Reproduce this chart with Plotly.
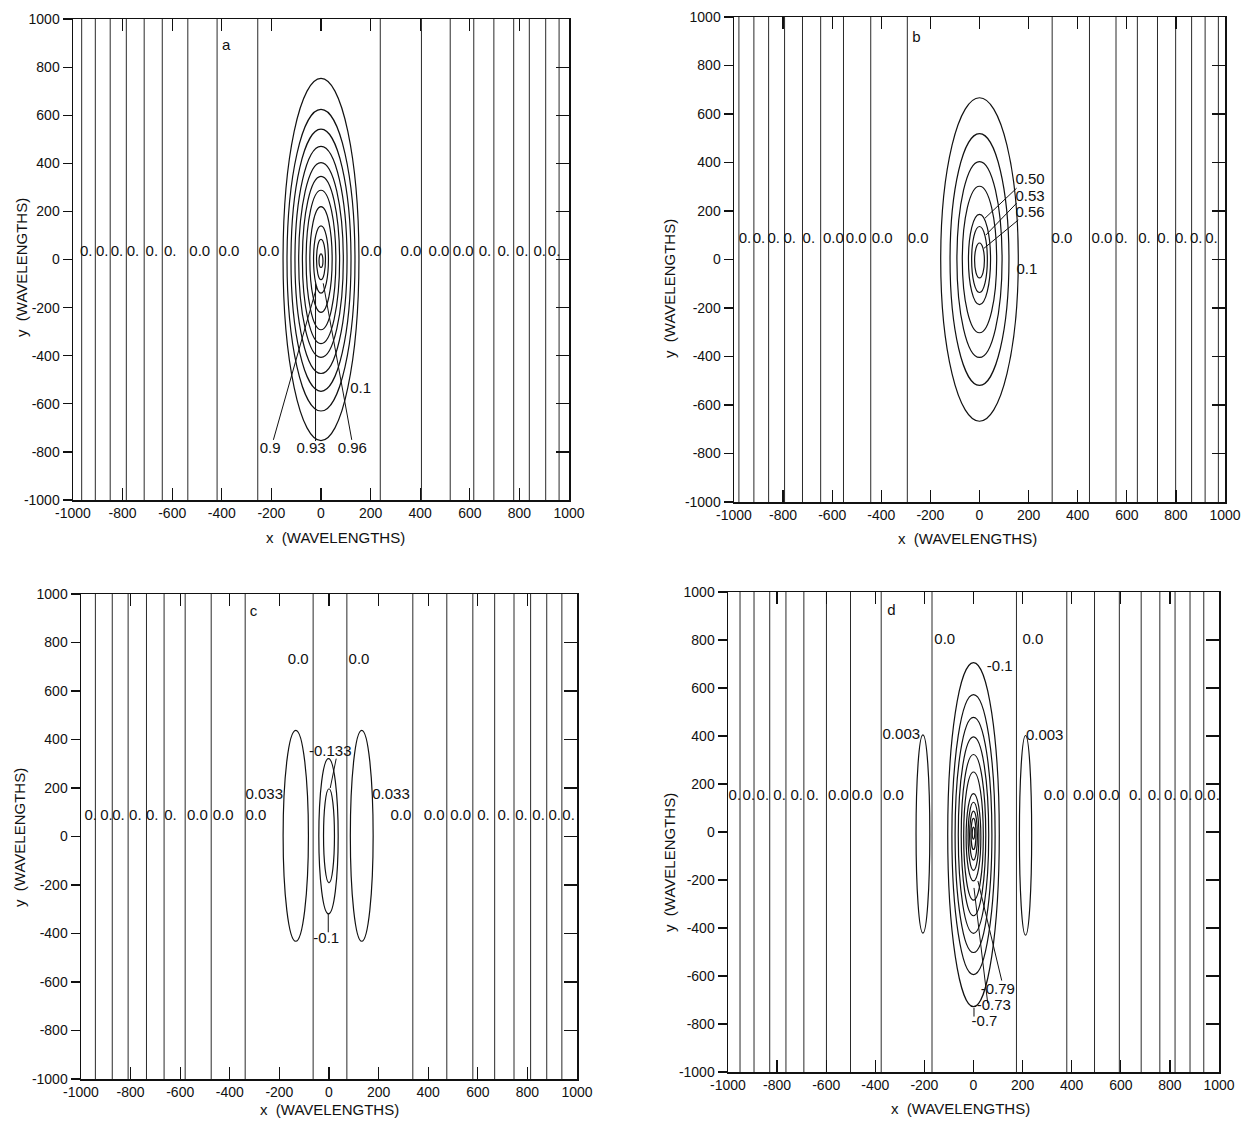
import plotly.graph_objects as go

# ---------------- data (x, y in wavelengths) ----------------
TICKS = [-1000, -800, -600, -400, -200, 0, 200, 400, 600, 800, 1000]
TICK_TEXT = ["-1000", "-800", "-600", "-400", "-200", "0", "200", "400", "600", "800", "1000"]
INNER_TICKS = [-800, -600, -400, -200, 0, 200, 400, 600, 800]

# Panel a
A_VLINES = [-965, -910, -850, -785, -713, -640, -537, -419, -255, 239, 405, 521, 616, 697, 777, 840, 906, 960]
A_ZERO_X = [-947, -882, -823, -758, -682, -608, -489, -371, -210, 202, 363, 476, 573, 661, 737, 811, 882, 940]
A_ZERO_TEXT = ["0.", "0.", "0.", "0.", "0.", "0.", "0.0", "0.0", "0.0", "0.0", "0.0", "0.0", "0.0", "0.", "0.", "0.", "0.", "0."]
A_ZERO_Y = 30
A_ELL_CX = [0, 0, 0, 0, 0, 0, 0, 0, 0, 0, 0]
A_ELL_CY = [0, -3, -3, -2, -2, -2, -2, 0, 0, 0, -5]
A_ELL_HW = [153, 137, 121, 105, 90, 75, 60, 45, 30, 18, 8]
A_ELL_HH = [753, 627, 545, 472, 405, 348, 290, 220, 140, 84, 28]
A_LBL_TEXT = ["0.1", "0.9", "0.93", "0.96", "a"]
A_LBL_X = [160, -205, -40, 126, -382]
A_LBL_Y = [-538, -790, -790, -790, 887]
A_LEAD_X0 = [-192, -22, 124]
A_LEAD_Y0 = [-750, -755, -750]
A_LEAD_X1 = [-17, -22, 9]
A_LEAD_Y1 = [-113, -99, -99]

# Panel b
B_VLINES = [-980, -919, -859, -794, -721, -647, -554, -443, -294, 296, 448, 556, 643, 725, 799, 864, 919, 973]
B_ZERO_X = [-955, -898, -838, -773, -695, -595, -502, -396, -250, 336, 499, 578, 672, 750, 822, 883, 945]
B_ZERO_TEXT = ["0.", "0.", "0.", "0.", "0.", "0.0", "0.0", "0.0", "0.0", "0.0", "0.0", "0.", "0.", "0.", "0.", "0.", "0."]
B_ZERO_Y = 83
B_ELL_CX = [0, 0, 0, 0, 0, 0, 0]
B_ELL_CY = [0, 0, 0, 0, 0, 0, -4]
B_ELL_HW = [158, 120, 92, 70, 45, 32, 20]
B_ELL_HH = [667, 519, 404, 302, 186, 136, 72]
B_LBL_TEXT = ["0.50", "0.53", "0.56", "0.1", "b"]
B_LBL_X = [206, 206, 206, 193, -257]
B_LBL_Y = [327, 257, 189, -44, 912]
B_LEAD_X0 = [151, 151, 158]
B_LEAD_Y0 = [294, 232, 163]
B_LEAD_X1 = [22, 26, 18]
B_LEAD_Y1 = [170, 101, 46]

# Panel c
C_VLINES = [-942, -874, -810, -736, -665, -580, -475, -338, -64, 72, 338, 475, 580, 668, 746, 813, 878, 939]
C_ZERO_X = [-961, -897, -849, -781, -713, -639, -531, -427, -295, 290, 424, 531, 623, 705, 776, 845, 910, 966]
C_ZERO_TEXT = ["0.", "0.", "0.", "0.", "0.", "0.", "0.0", "0.0", "0.0", "0.0", "0.0", "0.0", "0.", "0.", "0.", "0.", "0.", "0."]
C_ZERO_Y = 83
C_ELL_CX = [-134, 132, -2, 0]
C_ELL_CY = [3, 3, 1, 3]
C_ELL_HW = [51, 46, 39, 22]
C_ELL_HH = [435, 435, 320, 194]
C_LBL_TEXT = ["0.0", "0.0", "0.033", "0.033", "-0.133", "-0.1", "c"]
C_LBL_X = [-124, 121, -261, 250, 5, -11, -304]
C_LBL_Y = [727, 727, 171, 171, 346, -423, 923]
C_LEAD_X0 = [29, -3]
C_LEAD_Y0 = [321, -318]
C_LEAD_X1 = [5, -3]
C_LEAD_Y1 = [200, -395]

# Panel d
D_VLINES = [-951, -894, -830, -764, -691, -599, -501, -376, -169, 175, 380, 493, 594, 683, 759, 821, 882, 938]
D_ZERO_X = [-972, -915, -858, -790, -720, -655, -550, -453, -326, 329, 448, 553, 659, 735, 801, 866, 926, 978]
D_ZERO_TEXT = ["0.", "0.", "0.", "0.", "0.", "0.", "0.0", "0.0", "0.0", "0.0", "0.0", "0.0", "0.", "0.", "0.", "0.", "0.", "0."]
D_ZERO_Y = 151
D_ELL_CX = [0, 0, 0, 0, 0, 0, 0, 0, 0, 0, 0, -206, 212]
D_ELL_CY = [-11, -11, -12, -13, -13, -17, -22, -18, -15, -8, -5, -8, -14]
D_ELL_HW = [105, 88, 75, 62, 50, 40, 30, 22, 16, 10, 5, 28, 25]
D_ELL_HH = [717, 583, 490, 409, 336, 267, 182, 142, 102, 65, 25, 413, 416]
D_LBL_TEXT = ["0.0", "0.0", "0.003", "0.003", "-0.1", "-0.79", "-0.73", "-0.7", "d"]
D_LBL_X = [-117, 242, -294, 290, 107, 99, 83, 45, -334]
D_LBL_Y = [801, 801, 405, 401, 685, -658, -728, -794, 918]
D_LEAD_X0 = [115, 58, 2]
D_LEAD_Y0 = [-619, -714, -769]
D_LEAD_X1 = [18, 2, 2]
D_LEAD_Y1 = [-204, -233, -733]

PANELS = [
    dict(vl=A_VLINES, zx=A_ZERO_X, zt=A_ZERO_TEXT, zy=A_ZERO_Y, ecx=A_ELL_CX, ecy=A_ELL_CY, ehw=A_ELL_HW, ehh=A_ELL_HH,
         lt=A_LBL_TEXT, lx=A_LBL_X, ly=A_LBL_Y, x0=A_LEAD_X0, y0=A_LEAD_Y0, x1=A_LEAD_X1, y1=A_LEAD_Y1,
         box=(73, 569, 19, 500), xt=(336, 537), yt=(21, 268)),
    dict(vl=B_VLINES, zx=B_ZERO_X, zt=B_ZERO_TEXT, zy=B_ZERO_Y, ecx=B_ELL_CX, ecy=B_ELL_CY, ehw=B_ELL_HW, ehh=B_ELL_HH,
         lt=B_LBL_TEXT, lx=B_LBL_X, ly=B_LBL_Y, x0=B_LEAD_X0, y0=B_LEAD_Y0, x1=B_LEAD_X1, y1=B_LEAD_Y1,
         box=(734, 1225, 17, 502), xt=(967, 538), yt=(669, 288)),
    dict(vl=C_VLINES, zx=C_ZERO_X, zt=C_ZERO_TEXT, zy=C_ZERO_Y, ecx=C_ELL_CX, ecy=C_ELL_CY, ehw=C_ELL_HW, ehh=C_ELL_HH,
         lt=C_LBL_TEXT, lx=C_LBL_X, ly=C_LBL_Y, x0=C_LEAD_X0, y0=C_LEAD_Y0, x1=C_LEAD_X1, y1=C_LEAD_Y1,
         box=(81, 577, 594, 1079), xt=(329, 1109), yt=(19, 838)),
    dict(vl=D_VLINES, zx=D_ZERO_X, zt=D_ZERO_TEXT, zy=D_ZERO_Y, ecx=D_ELL_CX, ecy=D_ELL_CY, ehw=D_ELL_HW, ehh=D_ELL_HH,
         lt=D_LBL_TEXT, lx=D_LBL_X, ly=D_LBL_Y, x0=D_LEAD_X0, y0=D_LEAD_Y0, x1=D_LEAD_X1, y1=D_LEAD_Y1,
         box=(728, 1219, 592, 1072), xt=(960, 1108), yt=(669, 862)),
]

W, H = 1243, 1122
FONT = "Liberation Sans, Arial, sans-serif"
INK = "#111111"
LBL_SIZE = 15
TICK_SIZE = 14

fig = go.Figure()
layout = dict(template="none", width=W, height=H, margin=dict(l=0, r=0, t=0, b=0, pad=0, autoexpand=False),
              paper_bgcolor="white", plot_bgcolor="white", showlegend=False, hovermode=False,
              font=dict(family=FONT, size=13, color=INK))
shapes = []
annotations = []

for i, p in enumerate(PANELS):
    n = i + 1
    xa = "x" if n == 1 else f"x{n}"
    ya = "y" if n == 1 else f"y{n}"
    ya_r = f"y{n + 4}"
    l, r, t, b = p["box"]
    xdom = [l / W, r / W]
    ydom = [1 - b / H, 1 - t / H]

    vx, vy = [], []
    for xv in p["vl"]:
        vx += [xv, xv, None]
        vy += [-1000, 1000, None]
    fig.add_trace(go.Scatter(x=vx, y=vy, mode="lines", xaxis=xa, yaxis=ya,
                             line=dict(color="#2a2a2a", width=1), hoverinfo="skip"))
    lx, ly = [], []
    for a0, b0, a1, b1 in zip(p["x0"], p["y0"], p["x1"], p["y1"]):
        lx += [a0, a1, None]
        ly += [b0, b1, None]
    fig.add_trace(go.Scatter(x=lx, y=ly, mode="lines", xaxis=xa, yaxis=ya,
                             line=dict(color=INK, width=1), hoverinfo="skip"))
    fig.add_trace(go.Scatter(x=p["zx"], y=[p["zy"]] * len(p["zx"]), text=p["zt"], mode="text",
                             xaxis=xa, yaxis=ya, textposition="middle center", cliponaxis=False,
                             textfont=dict(family=FONT, size=LBL_SIZE, color=INK), hoverinfo="skip"))
    fig.add_trace(go.Scatter(x=p["lx"], y=p["ly"], text=p["lt"], mode="text",
                             xaxis=xa, yaxis=ya, textposition="middle center", cliponaxis=False,
                             textfont=dict(family=FONT, size=LBL_SIZE, color=INK), hoverinfo="skip"))
    fig.add_trace(go.Scatter(x=[None], y=[None], xaxis=xa, yaxis=ya_r, mode="markers", hoverinfo="skip"))

    for cx, cy, hw, hh in zip(p["ecx"], p["ecy"], p["ehw"], p["ehh"]):
        shapes.append(dict(type="circle", xref=xa, yref=ya, x0=cx - hw, x1=cx + hw, y0=cy - hh, y1=cy + hh,
                           line=dict(color=INK, width=1.2), layer="above"))

    xkey = "xaxis" if n == 1 else f"xaxis{n}"
    ykey = "yaxis" if n == 1 else f"yaxis{n}"
    layout[xkey] = dict(domain=xdom, anchor=ya, range=[-1000, 1000], tickmode="array", automargin=False,
                        tickvals=TICKS, ticktext=TICK_TEXT, ticks="inside", ticklen=12, tickwidth=1.2,
                        tickcolor=INK, showline=True, linecolor=INK, linewidth=1.5, mirror="ticks",
                        showgrid=False, zeroline=False, fixedrange=True,
                        tickfont=dict(family=FONT, size=TICK_SIZE, color=INK))
    layout[ykey] = dict(domain=ydom, anchor=xa, range=[-1000, 1000], tickmode="array", automargin=False,
                        tickvals=TICKS, ticktext=TICK_TEXT, ticks="outside", ticklen=9, tickwidth=1.2,
                        tickcolor=INK, showline=True, linecolor=INK, linewidth=1.5, mirror=True,
                        showgrid=False, zeroline=False, fixedrange=True,
                        tickfont=dict(family=FONT, size=TICK_SIZE, color=INK))
    layout[f"yaxis{n + 4}"] = dict(overlaying=ya, anchor=xa, side="right", range=[-1000, 1000], automargin=False,
                                   tickmode="array", tickvals=INNER_TICKS, ticks="inside", ticklen=13,
                                   tickwidth=1.2, tickcolor=INK, showticklabels=False, showline=False,
                                   showgrid=False, zeroline=False, fixedrange=True)

    annotations.append(dict(text="x  (WAVELENGTHS)", x=p["xt"][0] / W, y=1 - p["xt"][1] / H,
                            xref="paper", yref="paper", showarrow=False, xanchor="center", yanchor="middle",
                            font=dict(family=FONT, size=15, color=INK)))
    annotations.append(dict(text="y  (WAVELENGTHS)", x=p["yt"][0] / W, y=1 - p["yt"][1] / H,
                            xref="paper", yref="paper", showarrow=False, xanchor="center", yanchor="middle",
                            textangle=-90, font=dict(family=FONT, size=15, color=INK)))

layout["shapes"] = shapes
layout["annotations"] = annotations
fig.update_layout(**layout)
fig.write_html("out.html", config={"displayModeBar": False, "staticPlot": True},
               post_script="document.body.style.margin='0px';document.body.style.overflow='hidden';")
